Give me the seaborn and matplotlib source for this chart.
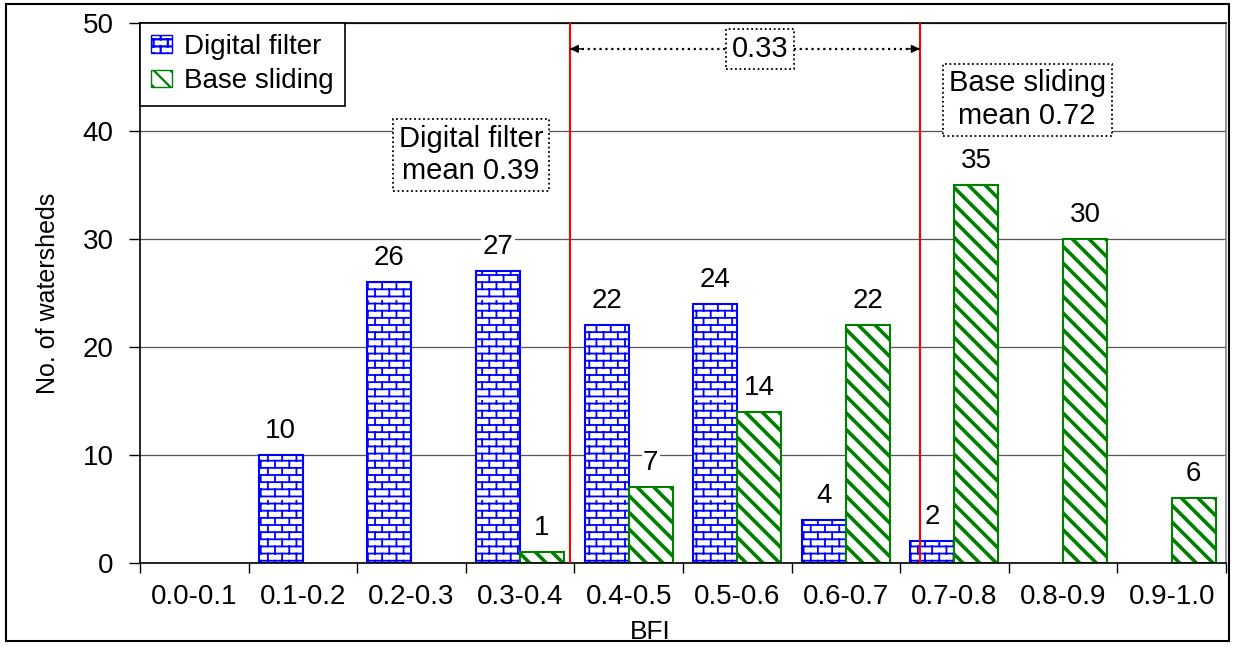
import warnings
import numpy as np
import pandas as pd
import seaborn as sns
import matplotlib.pyplot as plt
import matplotlib.hatch as mhatch
from matplotlib.path import Path
from matplotlib.patches import Rectangle, Patch

warnings.filterwarnings('ignore')

#==============================================================================

# Dados
bfi_classes = ['0.0-0.1', '0.1-0.2', '0.2-0.3', '0.3-0.4', '0.4-0.5',
               '0.5-0.6', '0.6-0.7', '0.7-0.8', '0.8-0.9', '0.9-1.0']
digital_filter = [0, 10, 26, 27, 22, 24, 4, 2, 0, 0]
base_sliding = [0, 0, 0, 1, 7, 14, 22, 35, 30, 6]
methods = ['Digital filter', 'Base sliding']
mean_labels = ['Digital filter\nmean 0.39', 'Base sliding\nmean 0.72']
mean_lines = [0.396, 0.718]   # posicao das linhas vermelhas (BFI)
diff_label = '0.33'
y_ticks = [0, 10, 20, 30, 40, 50]

df = pd.DataFrame({
    'BFI': bfi_classes * 2,
    'count': digital_filter + base_sliding,
    'method': [methods[0]] * len(bfi_classes) + [methods[1]] * len(bfi_classes),
})

#==============================================================================

# Hachura de tijolos (nao existe no matplotlib)
class BrickHatch(mhatch.HatchPatternBase):
    def __init__(self, hatch, density):
        self.num_rows = 14 * hatch.count('b')
        self.per_row = 7
        self.num_vertices = self.num_rows * (2 + 2 * self.per_row)

    def set_vertices_and_codes(self, vertices, codes):
        i = 0
        for r in range(self.num_rows):
            y0 = (r + 0.5) / self.num_rows
            y1 = (r + 1.5) / self.num_rows
            vertices[i] = (0, y0)
            vertices[i + 1] = (1, y0)
            i += 2
            for k in range(self.per_row):
                x = (k + 0.25 + 0.5 * (r % 2)) / self.per_row
                vertices[i] = (x, y0)
                vertices[i + 1] = (x, y1)
                i += 2
        codes[0::2] = Path.MOVETO
        codes[1::2] = Path.LINETO


mhatch._hatch_types.append(BrickHatch)

#==============================================================================

sns.set_style('white')
plt.rcParams['font.family'] = ['Liberation Sans', 'DejaVu Sans']
plt.rcParams['text.color'] = 'black'
plt.rcParams['axes.labelcolor'] = 'black'
plt.rcParams['xtick.color'] = 'black'
plt.rcParams['ytick.color'] = 'black'
plt.rcParams['hatch.linewidth'] = 1.6

fig = plt.figure(figsize=(12.33, 6.47), dpi=100)
ax = fig.add_axes([0.1135, 0.1298, 0.8808, 0.8347])

sns.barplot(data=df, x='BFI', y='count', hue='method', order=bfi_classes,
            hue_order=methods, palette=['white', 'white'], saturation=1,
            width=0.81, gap=0, legend=False, ax=ax)

styles = [('blue', 'b', 1.3), ('green', '\\\\', 2.6)]
for cont, (col, h, hlw), vals in zip(ax.containers, styles,
                                     [digital_filter, base_sliding]):
    for bar, v in zip(cont, vals):
        bar.set_facecolor('white')
        bar.set_edgecolor(col)
        bar.set_hatch(h)
        bar.set_linewidth(1.5)
        if hasattr(bar, 'set_hatch_linewidth'):
            bar.set_hatch_linewidth(hlw)
        if v == 0:
            bar.set_visible(False)
    ax.bar_label(cont, labels=[str(v) if v else '' for v in vals],
                 padding=8, fontsize=20,
                 bbox=dict(fc='white', ec='none', pad=1))

# Linhas das medias
pos = [m * 10 - 0.5 for m in mean_lines]
ax.vlines(pos, 0, 50, color='red', lw=1.5, zorder=4)

box = dict(boxstyle='square,pad=0.2', fc='white', ec='black',
           ls=(0, (1, 1.5)), lw=1.3)
ax.text(2.55, 37.8, mean_labels[0], ha='center', va='center',
        fontsize=21, bbox=box, zorder=5)
ax.text(7.67, 42.9, mean_labels[1], ha='center', va='center',
        fontsize=21, bbox=box, zorder=5)

# Seta dupla entre as medias
y_arr = 47.6
ax.plot(pos, [y_arr, y_arr], ls=':', color='black', lw=1.6, zorder=5)
for a, b in [(pos[0], pos[0] + 0.12), (pos[1], pos[1] - 0.12)]:
    ax.annotate('', xy=(a, y_arr), xytext=(b, y_arr),
                arrowprops=dict(arrowstyle='-|>', color='black', lw=1,
                                mutation_scale=12, shrinkA=0, shrinkB=0),
                zorder=5)
ax.text(5.21, y_arr, diff_label, ha='center', va='center', fontsize=21,
        bbox=box, zorder=6)

# Eixos
ax.set_xlim(-0.5, 9.5)
ax.set_ylim(0, 50)
ax.set_yticks(y_ticks)
ax.set_xticks(np.arange(-0.5, 10, 1), minor=True)
ax.tick_params(axis='x', which='major', length=0, pad=15, labelsize=20)
ax.tick_params(axis='x', which='minor', length=7, width=1, color='black',
               bottom=True, direction='out')
ax.tick_params(axis='y', length=8, width=1, color='black', pad=11,
               labelsize=20, left=True, direction='out')
ax.yaxis.grid(True, color='#555555', lw=0.9)
ax.set_axisbelow(True)
for s in ['left', 'bottom', 'top']:
    ax.spines[s].set_color('black')
    ax.spines[s].set_linewidth(1.2)
ax.spines['right'].set_color('#808080')
ax.spines['right'].set_linewidth(1.2)

ax.set_ylabel('No. of watersheds', fontsize=18, labelpad=16)
ax.set_xlabel('BFI', fontsize=19)
ax.xaxis.set_label_coords(0.47, -0.105)

# Legenda
handles = [Patch(facecolor='white', edgecolor='blue', hatch='b', lw=1),
           Patch(facecolor='white', edgecolor='green', hatch='\\\\', lw=1)]
leg = ax.legend(handles, methods, loc='upper left', borderaxespad=0,
                fontsize=20, fancybox=False, framealpha=1, edgecolor='black',
                handlelength=0.75, handleheight=0.6, handletextpad=0.45,
                borderpad=0.4, labelspacing=0.3)
leg.get_frame().set_linewidth(1.2)

# Moldura externa
fig.patches.append(Rectangle((0.005, 0.0093), 0.9918, 0.9845,
                             transform=fig.transFigure, fill=False,
                             ec='black', lw=1.5))

fig.savefig('out.png', dpi=100)
